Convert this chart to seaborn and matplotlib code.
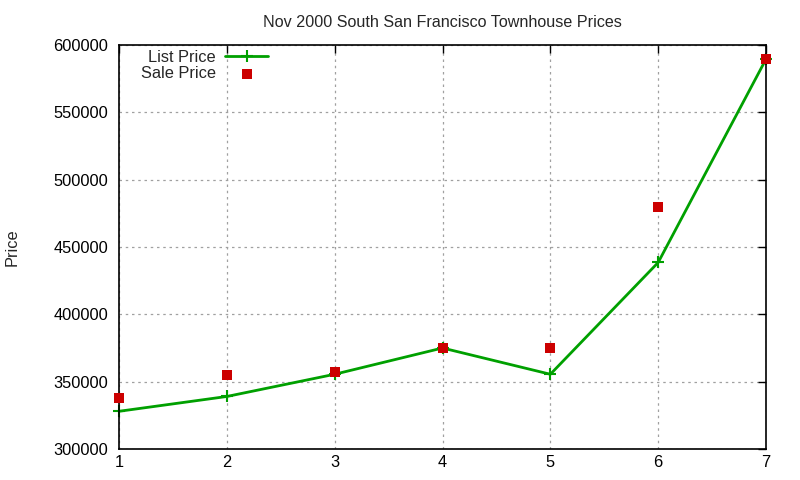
import matplotlib
matplotlib.use("Agg")
import matplotlib.pyplot as plt
import seaborn as sns
import pandas as pd

months = [1, 2, 3, 4, 5, 6, 7]
list_price = [328000, 339000, 355500, 375000, 355500, 438500, 589500]
sale_price = [338000, 355000, 357500, 375000, 375000, 480000, 589500]

df = pd.DataFrame({"x": months, "list": list_price, "sale": sale_price})

sns.set_theme(style="white")
plt.rcParams['font.family'] = ['Liberation Sans', 'DejaVu Sans']
FS = 11.8

fig = plt.figure(figsize=(8, 4.8), dpi=100)
ax = fig.add_axes([119/800, 1-449/480, (766-119)/800, (449-45)/480])

sns.lineplot(data=df, x="x", y="list", ax=ax, color="#00a000", linewidth=2,
             marker="+", markersize=9, markeredgewidth=1.5, markeredgecolor="#00a000",
             label="List Price", clip_on=False)
sns.scatterplot(data=df, x="x", y="sale", ax=ax, color="#cc0000", marker="s",
                s=55, linewidth=0, label="Sale Price", clip_on=False, zorder=5)

ax.set_xlim(1, 7)
ax.set_ylim(300000, 600000)
ax.set_xticks(months)
ax.set_yticks(range(300000, 600001, 50000))
ax.set_yticklabels([str(v) for v in range(300000, 600001, 50000)])
ax.grid(True, color="#a0a0a0", linestyle=(0, (2, 3)), linewidth=0.9)
for s in ax.spines.values():
    s.set_color("black")
    s.set_linewidth(1.2)
ax.tick_params(direction="in", length=6, width=1, top=True, right=True,
               labelsize=FS, colors="black")
ax.tick_params(axis="y", pad=8)
ax.tick_params(axis="x", pad=4)
ax.set_xlabel("")
ax.set_ylabel("Price", fontsize=FS)
ax.yaxis.set_label_coords(-(119-12)/647, 0.5)
ax.yaxis.label.set_va("center")
ax.set_title("Nov 2000 South San Francisco Townhouse Prices", fontsize=11.6, pad=13)

leg = ax.legend(loc="upper right", bbox_to_anchor=(268/800, 1-50/480),
                bbox_transform=fig.transFigure, frameon=False,
                markerfirst=False, fontsize=FS, handlelength=2.6,
                borderaxespad=0.0, borderpad=0.0, labelspacing=0.05, handletextpad=0.6)
leg._legend_box.align = "right"

fig.savefig("out.png", dpi=100)
